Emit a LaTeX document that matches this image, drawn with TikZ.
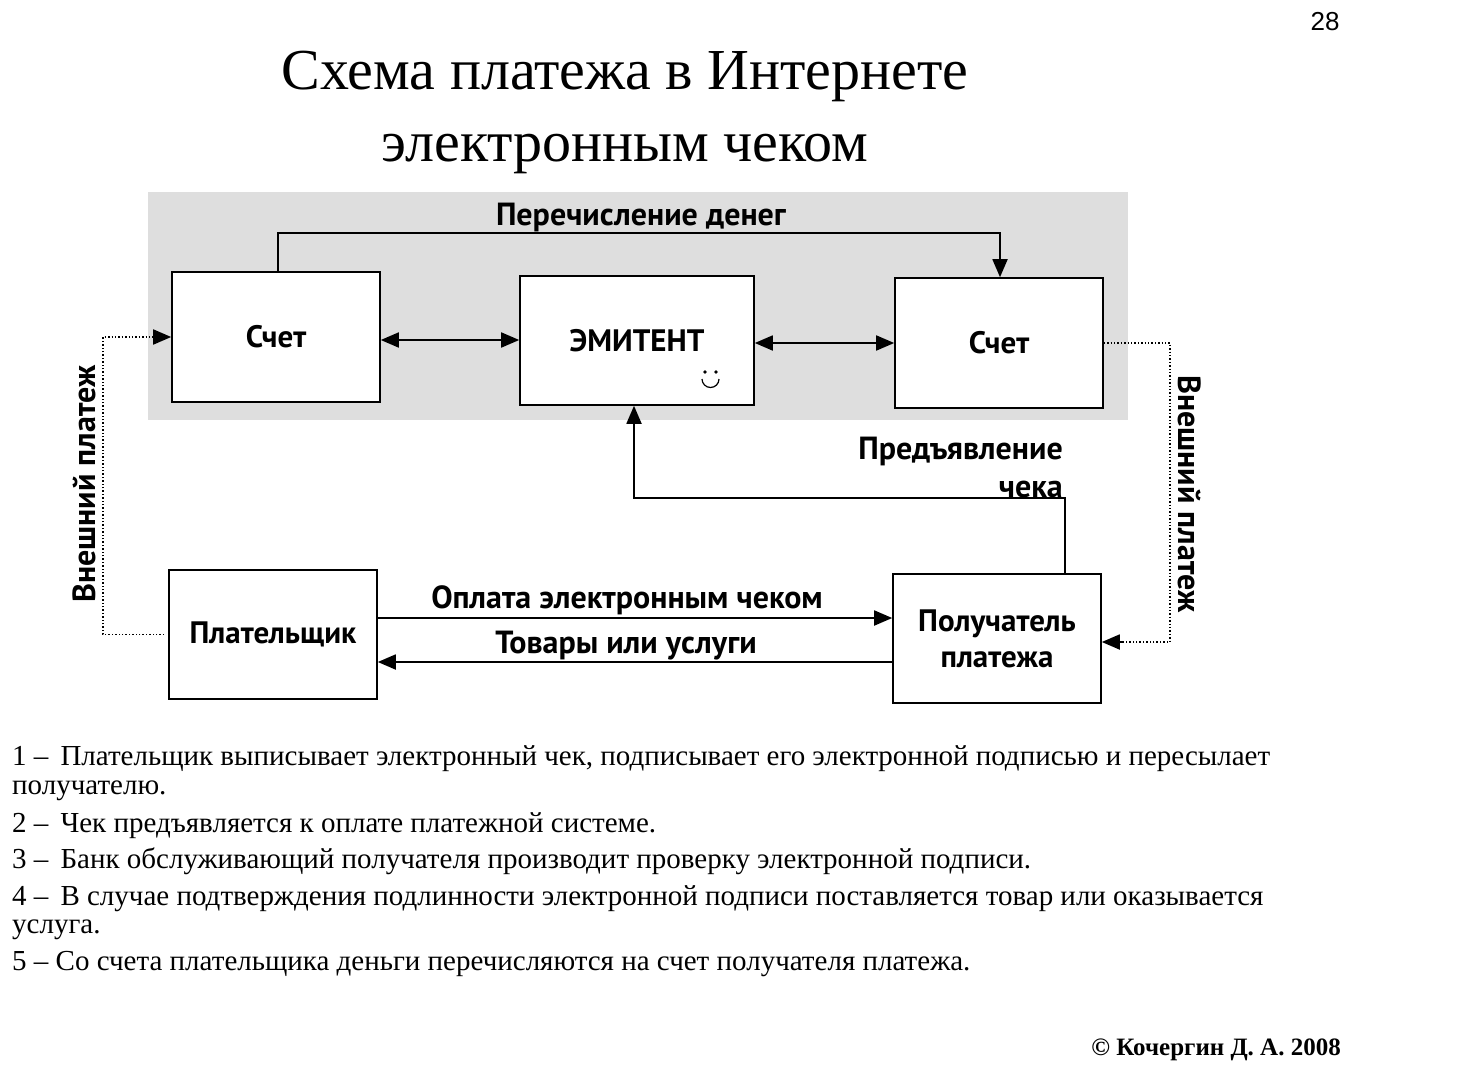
\documentclass[tikz,border=0pt]{standalone}
\usepackage{fontspec}
\setmainfont{Liberation Serif}
\newfontfamily\diagfont{PT Sans}
\newfontfamily\numfont{Liberation Sans}
\usetikzlibrary{arrows.meta,calc}
\begin{document}
\begin{tikzpicture}[x=1pt,y=-1pt,
  box/.style={draw,line width=1.6pt,fill=white,minimum width=208pt,minimum height=130pt,inner sep=0pt,font=\diagfont\bfseries\fontsize{31}{36}\selectfont},
  conn/.style={line width=1.8pt,-{Triangle[length=18pt,width=15pt]}},
  dconn/.style={line width=1.8pt,{Triangle[length=18pt,width=15pt]}-{Triangle[length=18pt,width=15pt]}},
  dots/.style={line width=1.4pt,dotted},
  lbl/.style={font=\diagfont\bfseries\fontsize{32}{36}\selectfont,inner sep=0pt},
  body/.style={font=\fontsize{29}{32}\selectfont,anchor=base west,inner sep=0pt}]
\useasboundingbox (0,0) rectangle (1479,1070);
\fill[white] (0,0) rectangle (1479,1070);
% page number
\node[font=\numfont\fontsize{26}{28}\selectfont] (pg) at (1325,22) {28};
% title
\node[font=\fontsize{58}{72}\selectfont,align=center,inner sep=0pt] (title) at (625,112) {Схема платежа в Интернете\\электронным чеком};
% background
\fill[black!13] (148,192) rectangle (1128,420);
% boxes
\node[box] (accL) at (276,337) {Счет};
\node[box,minimum width=234pt,minimum height=129pt] (emit) at (637,340.5) {ЭМИТЕНТ};
\node[box] (accR) at (999,343) {Счет};
\node[box,minimum height=129pt] (payer) at (273,634.5) {Плательщик};
\node[box,minimum height=129pt,align=center] (recv) at (997,638.5) {Получатель\\платежа};
% smiley
\fill (705,372) circle (1.8pt) (716,372) circle (1.8pt);
\draw[line width=1.2pt] (702,379) arc[start angle=180,end angle=360,radius=8.5pt];
% top transfer
\coordinate (t1) at ($(accL.north)+(2,-38)$);
\draw[conn] (accL.north -| t1) -- (t1) -| ($(accR.north)+(1,0)$);
\node[lbl] (perech) at (641,217) {Перечисление денег};
% double arrows
\draw[dconn] (accL.east |- 0,340) -- (emit.west |- 0,340);
\draw[dconn] (emit.east |- 0,343) -- (accR.west |- 0,343);
% presentation of check
\coordinate (p1) at (1065,498);
\draw[conn] (recv.north -| p1) -- (p1) -| (emit.south -| 634,0);
\node[lbl,align=right,anchor=east] (pred) at (1063,468) {Предъявление\\[2pt]чека};
% payment arrows
\draw[conn] (payer.east |- 0,618) -- (recv.west |- 0,618);
\draw[conn] (recv.west |- 0,662) -- (payer.east |- 0,662);
\node[lbl] (opl) at (627,600) {Оплата электронным чеком};
\node[lbl] (tov) at (626,646) {Товары или услуги};
% external payments (dotted)
\coordinate (dl) at (103,337);
\coordinate (dla) at (152,337);
\draw[dots] ($(payer.west)+(-4,0)$) -| (dl) -- (dla);
\draw[conn] (dla) -- (accL.west);
\coordinate (dr) at (1170,642);
\coordinate (dra) at (1122,642);
\draw[dots] (accR.east) -| (dr) -- (dra);
\draw[conn] (dra) -- (recv.east |- dr);
\node[lbl,rotate=90] (extL) at (84,484) {Внешний платеж};
\node[lbl,rotate=-90] (extR) at (1190,494) {Внешний платеж};
% text
\node[body] (l1) at (12,765) {1 –\, Плательщик выписывает электронный чек, подписывает его электронной подписью и пересылает};
\node[body] (l2) at (12,794) {получателю.};
\node[body] (l3) at (12,832) {2 –\, Чек предъявляется к оплате платежной системе.};
\node[body] (l4) at (12,868) {3 –\, Банк обслуживающий получателя производит проверку электронной подписи.};
\node[body] (l5) at (12,905) {4 –\, В случае подтверждения подлинности электронной подписи поставляется товар или оказывается};
\node[body] (l6) at (12,933) {услуга.};
\node[body] (l7) at (12,970) {5 – Со счета плательщика деньги перечисляются на счет получателя платежа.};
\node[font=\bfseries\fontsize{25}{28}\selectfont,anchor=base east,inner sep=0pt] (copy) at (1341,1055) {© Кочергин Д. А. 2008};
\end{tikzpicture}
\end{document}
